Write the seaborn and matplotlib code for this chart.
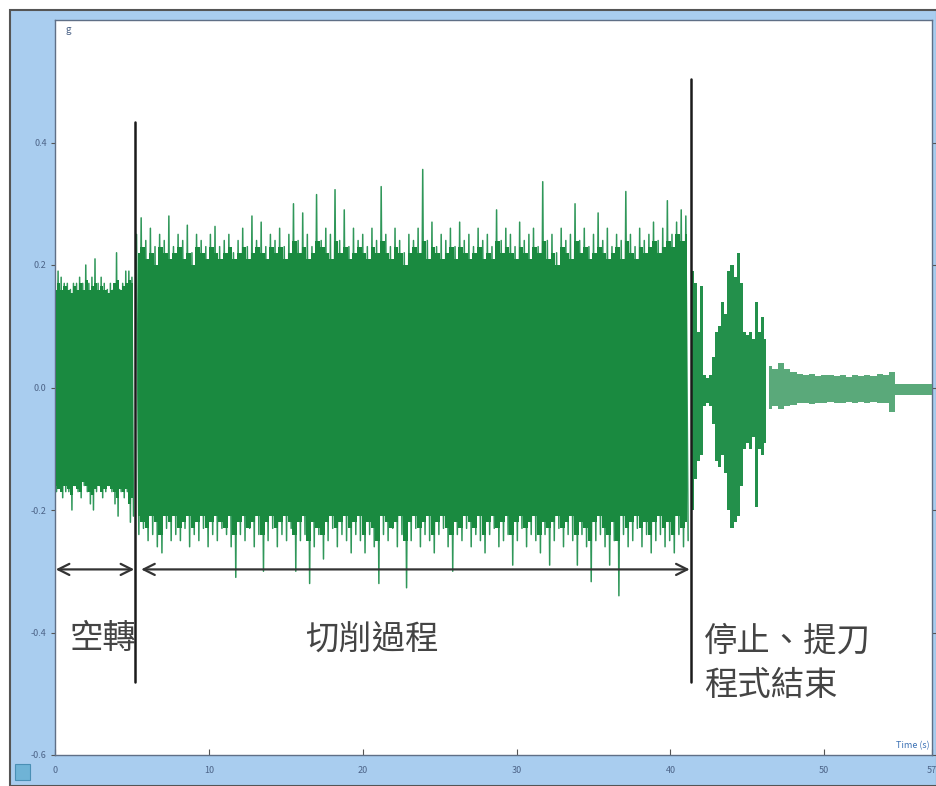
import numpy as np
import pandas as pd
import matplotlib
matplotlib.use("Agg")
import matplotlib.pyplot as plt
from matplotlib.patches import Rectangle
import seaborn as sns

# ---- acceleration record (g) ----
# idle spindle: peaks sampled every 0.2 s from t = 0.0
idle_t0, idle_dt = 0.0, 0.2
idle_upper = [0.17, 0.19, 0.18, 0.17, 0.17, 0.16, 0.17, 0.17, 0.18, 0.17,
              0.20, 0.17, 0.18, 0.21, 0.17, 0.18, 0.17, 0.16, 0.17, 0.16,
              0.22, 0.16, 0.17, 0.19, 0.19, 0.18]
idle_lower = [-0.17, -0.16, -0.18, -0.17, -0.17, -0.20, -0.16, -0.17, -0.18, -0.16,
              -0.17, -0.19, -0.20, -0.17, -0.16, -0.18, -0.17, -0.16, -0.17, -0.19,
              -0.21, -0.17, -0.18, -0.17, -0.22, -0.21]
# dense body of the signal between the main peaks
idle_upper_b = [0.16, 0.17, 0.16, 0.165, 0.16, 0.155, 0.165, 0.16, 0.17, 0.16,
                0.175, 0.16, 0.165, 0.17, 0.16, 0.165, 0.16, 0.155, 0.16, 0.17,
                0.175, 0.16, 0.165, 0.17, 0.175, 0.17]
idle_lower_b = [-0.16, -0.165, -0.17, -0.16, -0.165, -0.175, -0.16, -0.165, -0.17, -0.155,
                -0.16, -0.17, -0.175, -0.165, -0.16, -0.17, -0.165, -0.16, -0.165, -0.17,
                -0.18, -0.165, -0.17, -0.165, -0.19, -0.18]

# cutting: peaks sampled every 0.3 s from t = 5.3
cut_t0, cut_dt = 5.3, 0.3
cut_upper = [0.25, 0.277, 0.24, 0.26, 0.23, 0.25, 0.24, 0.28, 0.23, 0.25,
             0.24, 0.265, 0.22, 0.25, 0.24, 0.23, 0.25, 0.263, 0.23, 0.24,
             0.25, 0.22, 0.24, 0.26, 0.23, 0.28, 0.24, 0.27, 0.23, 0.25,
             0.24, 0.26, 0.23, 0.25, 0.30, 0.24, 0.285, 0.25, 0.23, 0.315,
             0.24, 0.26, 0.25, 0.323, 0.24, 0.29, 0.23, 0.26, 0.24, 0.25,
             0.23, 0.26, 0.24, 0.328, 0.25, 0.23, 0.26, 0.24, 0.22, 0.25,
             0.24, 0.26, 0.356, 0.24, 0.27, 0.23, 0.25, 0.24, 0.26, 0.23,
             0.27, 0.24, 0.25, 0.23, 0.26, 0.24, 0.25, 0.23, 0.29, 0.24,
             0.26, 0.25, 0.23, 0.27, 0.24, 0.25, 0.26, 0.23, 0.336, 0.24,
             0.25, 0.22, 0.26, 0.24, 0.25, 0.30, 0.24, 0.26, 0.23, 0.25,
             0.285, 0.24, 0.26, 0.23, 0.25, 0.24, 0.32, 0.25, 0.23, 0.26,
             0.24, 0.25, 0.27, 0.24, 0.26, 0.305, 0.25, 0.27, 0.29, 0.28]
cut_lower = [-0.24, -0.23, -0.25, -0.24, -0.26, -0.27, -0.23, -0.25, -0.24, -0.25,
             -0.23, -0.26, -0.24, -0.25, -0.23, -0.26, -0.24, -0.25, -0.23, -0.24,
             -0.26, -0.31, -0.24, -0.25, -0.23, -0.26, -0.24, -0.30, -0.25, -0.23,
             -0.26, -0.24, -0.25, -0.23, -0.30, -0.25, -0.24, -0.32, -0.26, -0.24,
             -0.28, -0.25, -0.23, -0.26, -0.24, -0.25, -0.27, -0.24, -0.25, -0.27,
             -0.24, -0.26, -0.32, -0.24, -0.25, -0.23, -0.26, -0.24, -0.327, -0.25,
             -0.23, -0.26, -0.24, -0.25, -0.27, -0.24, -0.23, -0.26, -0.30, -0.24,
             -0.25, -0.23, -0.26, -0.24, -0.25, -0.27, -0.24, -0.23, -0.26, -0.25,
             -0.24, -0.29, -0.25, -0.23, -0.26, -0.24, -0.25, -0.27, -0.24, -0.29,
             -0.25, -0.23, -0.26, -0.24, -0.25, -0.29, -0.24, -0.26, -0.317, -0.25,
             -0.24, -0.26, -0.29, -0.25, -0.34, -0.24, -0.26, -0.25, -0.23, -0.26,
             -0.24, -0.27, -0.25, -0.24, -0.26, -0.25, -0.27, -0.24, -0.26, -0.25]
cut_upper_b = [0.22, 0.23, 0.21, 0.22, 0.20, 0.23, 0.22, 0.21, 0.22, 0.23,
               0.21, 0.22, 0.20, 0.23, 0.22, 0.21, 0.23, 0.22, 0.21, 0.22,
               0.23, 0.21, 0.22, 0.23, 0.21, 0.22, 0.23, 0.22, 0.21, 0.23,
               0.22, 0.23, 0.21, 0.22, 0.24, 0.22, 0.23, 0.21, 0.22, 0.24,
               0.23, 0.22, 0.21, 0.24, 0.22, 0.23, 0.21, 0.22, 0.23, 0.22,
               0.21, 0.23, 0.22, 0.24, 0.22, 0.21, 0.23, 0.22, 0.20, 0.22,
               0.23, 0.22, 0.24, 0.21, 0.23, 0.22, 0.21, 0.22, 0.23, 0.21,
               0.23, 0.22, 0.21, 0.22, 0.23, 0.21, 0.22, 0.21, 0.24, 0.22,
               0.23, 0.22, 0.21, 0.23, 0.22, 0.21, 0.23, 0.22, 0.24, 0.21,
               0.22, 0.20, 0.23, 0.22, 0.21, 0.24, 0.22, 0.23, 0.21, 0.22,
               0.23, 0.22, 0.21, 0.22, 0.23, 0.21, 0.24, 0.22, 0.21, 0.23,
               0.22, 0.23, 0.24, 0.22, 0.23, 0.24, 0.23, 0.25, 0.24, 0.25]
cut_lower_b = [-0.21, -0.22, -0.23, -0.21, -0.22, -0.24, -0.21, -0.22, -0.21, -0.23,
               -0.22, -0.21, -0.23, -0.22, -0.21, -0.23, -0.22, -0.21, -0.22, -0.23,
               -0.21, -0.24, -0.22, -0.21, -0.23, -0.22, -0.21, -0.24, -0.22, -0.21,
               -0.23, -0.22, -0.21, -0.22, -0.24, -0.22, -0.21, -0.25, -0.22, -0.23,
               -0.24, -0.22, -0.21, -0.23, -0.22, -0.21, -0.23, -0.22, -0.21, -0.24,
               -0.22, -0.23, -0.25, -0.21, -0.22, -0.23, -0.22, -0.21, -0.25, -0.22,
               -0.21, -0.23, -0.22, -0.21, -0.24, -0.22, -0.21, -0.23, -0.24, -0.22,
               -0.23, -0.21, -0.22, -0.23, -0.21, -0.24, -0.22, -0.21, -0.23, -0.22,
               -0.21, -0.24, -0.22, -0.21, -0.23, -0.22, -0.21, -0.24, -0.22, -0.23,
               -0.22, -0.21, -0.23, -0.22, -0.21, -0.24, -0.22, -0.23, -0.25, -0.22,
               -0.21, -0.23, -0.24, -0.22, -0.25, -0.21, -0.23, -0.22, -0.21, -0.23,
               -0.22, -0.24, -0.22, -0.21, -0.23, -0.22, -0.24, -0.21, -0.23, -0.22]

# spindle stop / tool retract bursts
stop_t = [41.4, 41.6, 41.8, 42.0, 42.2, 42.4, 42.6, 42.8, 43.0, 43.2,
          43.4, 43.6, 43.8, 44.0, 44.2, 44.4, 44.6, 44.8, 45.0, 45.2,
          45.4, 45.6, 45.8, 46.0, 46.2]
stop_upper = [0.19, 0.17, 0.09, 0.165, 0.02, 0.015, 0.02, 0.05, 0.09, 0.10,
              0.14, 0.12, 0.19, 0.20, 0.18, 0.22, 0.17, 0.09, 0.085, 0.09,
              0.08, 0.14, 0.09, 0.115, 0.08]
stop_lower = [-0.20, -0.15, -0.12, -0.11, -0.03, -0.025, -0.03, -0.06, -0.12, -0.13,
              -0.11, -0.14, -0.20, -0.23, -0.22, -0.21, -0.16, -0.10, -0.09, -0.10,
              -0.08, -0.195, -0.10, -0.11, -0.09]

# program end: residual level
end_t = [46.4, 46.8, 47.2, 47.6, 48.0, 48.4, 48.8, 49.2, 49.6, 50.0,
         50.4, 50.8, 51.2, 51.6, 52.0, 52.4, 52.8, 53.2, 53.6, 54.0,
         54.4, 54.8, 55.2, 55.6, 56.0, 56.4, 57.0]
end_upper = [0.035, 0.03, 0.04, 0.03, 0.025, 0.022, 0.02, 0.022, 0.018, 0.02,
             0.02, 0.018, 0.02, 0.017, 0.02, 0.018, 0.02, 0.018, 0.022, 0.02,
             0.025, 0.006, 0.005, 0.006, 0.005, 0.005, 0.005]
end_lower = [-0.035, -0.03, -0.035, -0.03, -0.028, -0.025, -0.025, -0.027, -0.025, -0.025,
             -0.024, -0.025, -0.026, -0.024, -0.025, -0.024, -0.025, -0.024, -0.026, -0.025,
             -0.04, -0.013, -0.012, -0.013, -0.012, -0.012, -0.012]

# phase boundaries (s) and labels
phase_marks = [5.2, 41.35]
phase_labels = ["空轉", "切削過程", "停止、提刀\n程式結束"]
x_ticks = [0, 10, 20, 30, 40, 50, 57]
y_ticks = [-0.6, -0.4, -0.2, 0.0, 0.2, 0.4]


def zigzag(t0, dt, upper, lower):
    """Alternate peak/trough samples into one continuous trace."""
    ts, gs = [], []
    for i, (u, l) in enumerate(zip(upper, lower)):
        t = t0 + i * dt
        ts += [t, t + dt / 2]
        gs += [u, l]
    return pd.DataFrame({"t": ts, "g": gs})


def body(ax, t0, dt, upper, lower, color):
    """Solid body of the trace, stepped between the sampled levels."""
    ts = [t0 + (i + 0.25) * dt for i in range(len(upper))]
    ax.fill_between(ts, lower, upper, step="mid", color=color, lw=0, zorder=3)


sns.set_theme(style="white")
plt.rcParams["font.family"] = ["Noto Sans CJK TC", "DejaVu Sans"]

fig = plt.figure(figsize=(9.37, 7.86), dpi=100)
fig.patch.set_facecolor("white")
fig.patches.append(Rectangle((10 / 937, 0), 927 / 937, 776 / 786,
                             transform=fig.transFigure, facecolor="#a9cdef",
                             edgecolor="#555555", lw=1.5, zorder=-5))
# small window icon in the corner
fig.patches.append(Rectangle((15 / 937, 6 / 786), 15 / 937, 16 / 786,
                             transform=fig.transFigure, facecolor="#6fb3d6",
                             edgecolor="#4a8fb5", lw=0.8, zorder=-4))

ax = fig.add_axes([55 / 937, 31 / 786, 877 / 937, 735 / 786])
ax.set_zorder(1)
ax.set_facecolor("white")

line_c = "#2f9759"
core_c = "#1a8a40"

# idle spindle
df = zigzag(idle_t0, idle_dt, idle_upper, idle_lower)
sns.lineplot(data=df, x="t", y="g", sort=False, estimator=None,
             color=line_c, lw=1.1, ax=ax)
body(ax, idle_t0, idle_dt, idle_upper_b, idle_lower_b, core_c)

# cutting
df = zigzag(cut_t0, cut_dt, cut_upper, cut_lower)
sns.lineplot(data=df, x="t", y="g", sort=False, estimator=None,
             color=line_c, lw=1.1, ax=ax)
body(ax, cut_t0, cut_dt, cut_upper_b, cut_lower_b, core_c)

# stop and retract
ax.fill_between(stop_t, stop_lower, stop_upper, step="mid", color="#23904b", lw=0, zorder=3)
ax.fill_between(end_t, end_lower, end_upper, step="mid", color="#5aa97a", lw=0, zorder=3)

# phase boundaries
ax.plot([phase_marks[0]] * 2, [-0.48, 0.434], color="#1b1b1b", lw=1.8, zorder=5)
ax.plot([phase_marks[1]] * 2, [-0.48, 0.503], color="#1b1b1b", lw=1.8, zorder=5)

arrow_kw = dict(arrowstyle="<->", lw=1.6, color="#333333", mutation_scale=20,
                shrinkA=0, shrinkB=0)
ax.annotate("", xy=(0.05, -0.297), xytext=(5.15, -0.297), arrowprops=arrow_kw, zorder=5)
ax.annotate("", xy=(5.6, -0.297), xytext=(41.25, -0.297), arrowprops=arrow_kw, zorder=5)

txt_kw = dict(fontsize=24, color="#444444", va="center", fontweight="light")
ax.text(3.1, -0.41, phase_labels[0], ha="center", **txt_kw)
ax.text(20.6, -0.41, phase_labels[1], ha="center", **txt_kw)
ax.text(42.2, -0.45, phase_labels[2], ha="left", linespacing=1.35, **txt_kw)

ax.set_xlim(0, 57)
ax.set_ylim(-0.6, 0.6)
ax.set_xticks(x_ticks)
ax.set_xticklabels([str(v) for v in x_ticks])
ax.set_yticks(y_ticks)
ax.set_yticklabels([f"{v:.1f}" for v in y_ticks])
ax.set_xlabel("")
ax.set_ylabel("")
ax.tick_params(axis="x", direction="in", length=4, width=0.8, color="#555555",
               labelsize=6.5, labelcolor="#4d6488", pad=8, bottom=True)
ax.tick_params(axis="y", direction="out", length=3, width=0.8, color="#555555",
               labelsize=6.5, labelcolor="#4d6488", pad=3, left=True, right=True)
for side, sp in ax.spines.items():
    sp.set_color("#5f6f86")
    sp.set_linewidth(1.0)

ax.text(0.012, 0.993, "g", transform=ax.transAxes, ha="left", va="top",
        fontsize=7, color="#4d6488")
ax.text(0.997, 0.006, "Time (s)", transform=ax.transAxes, ha="right", va="bottom",
        fontsize=6.5, color="#3d72b5")

fig.savefig("out.png", dpi=100, facecolor="white")
